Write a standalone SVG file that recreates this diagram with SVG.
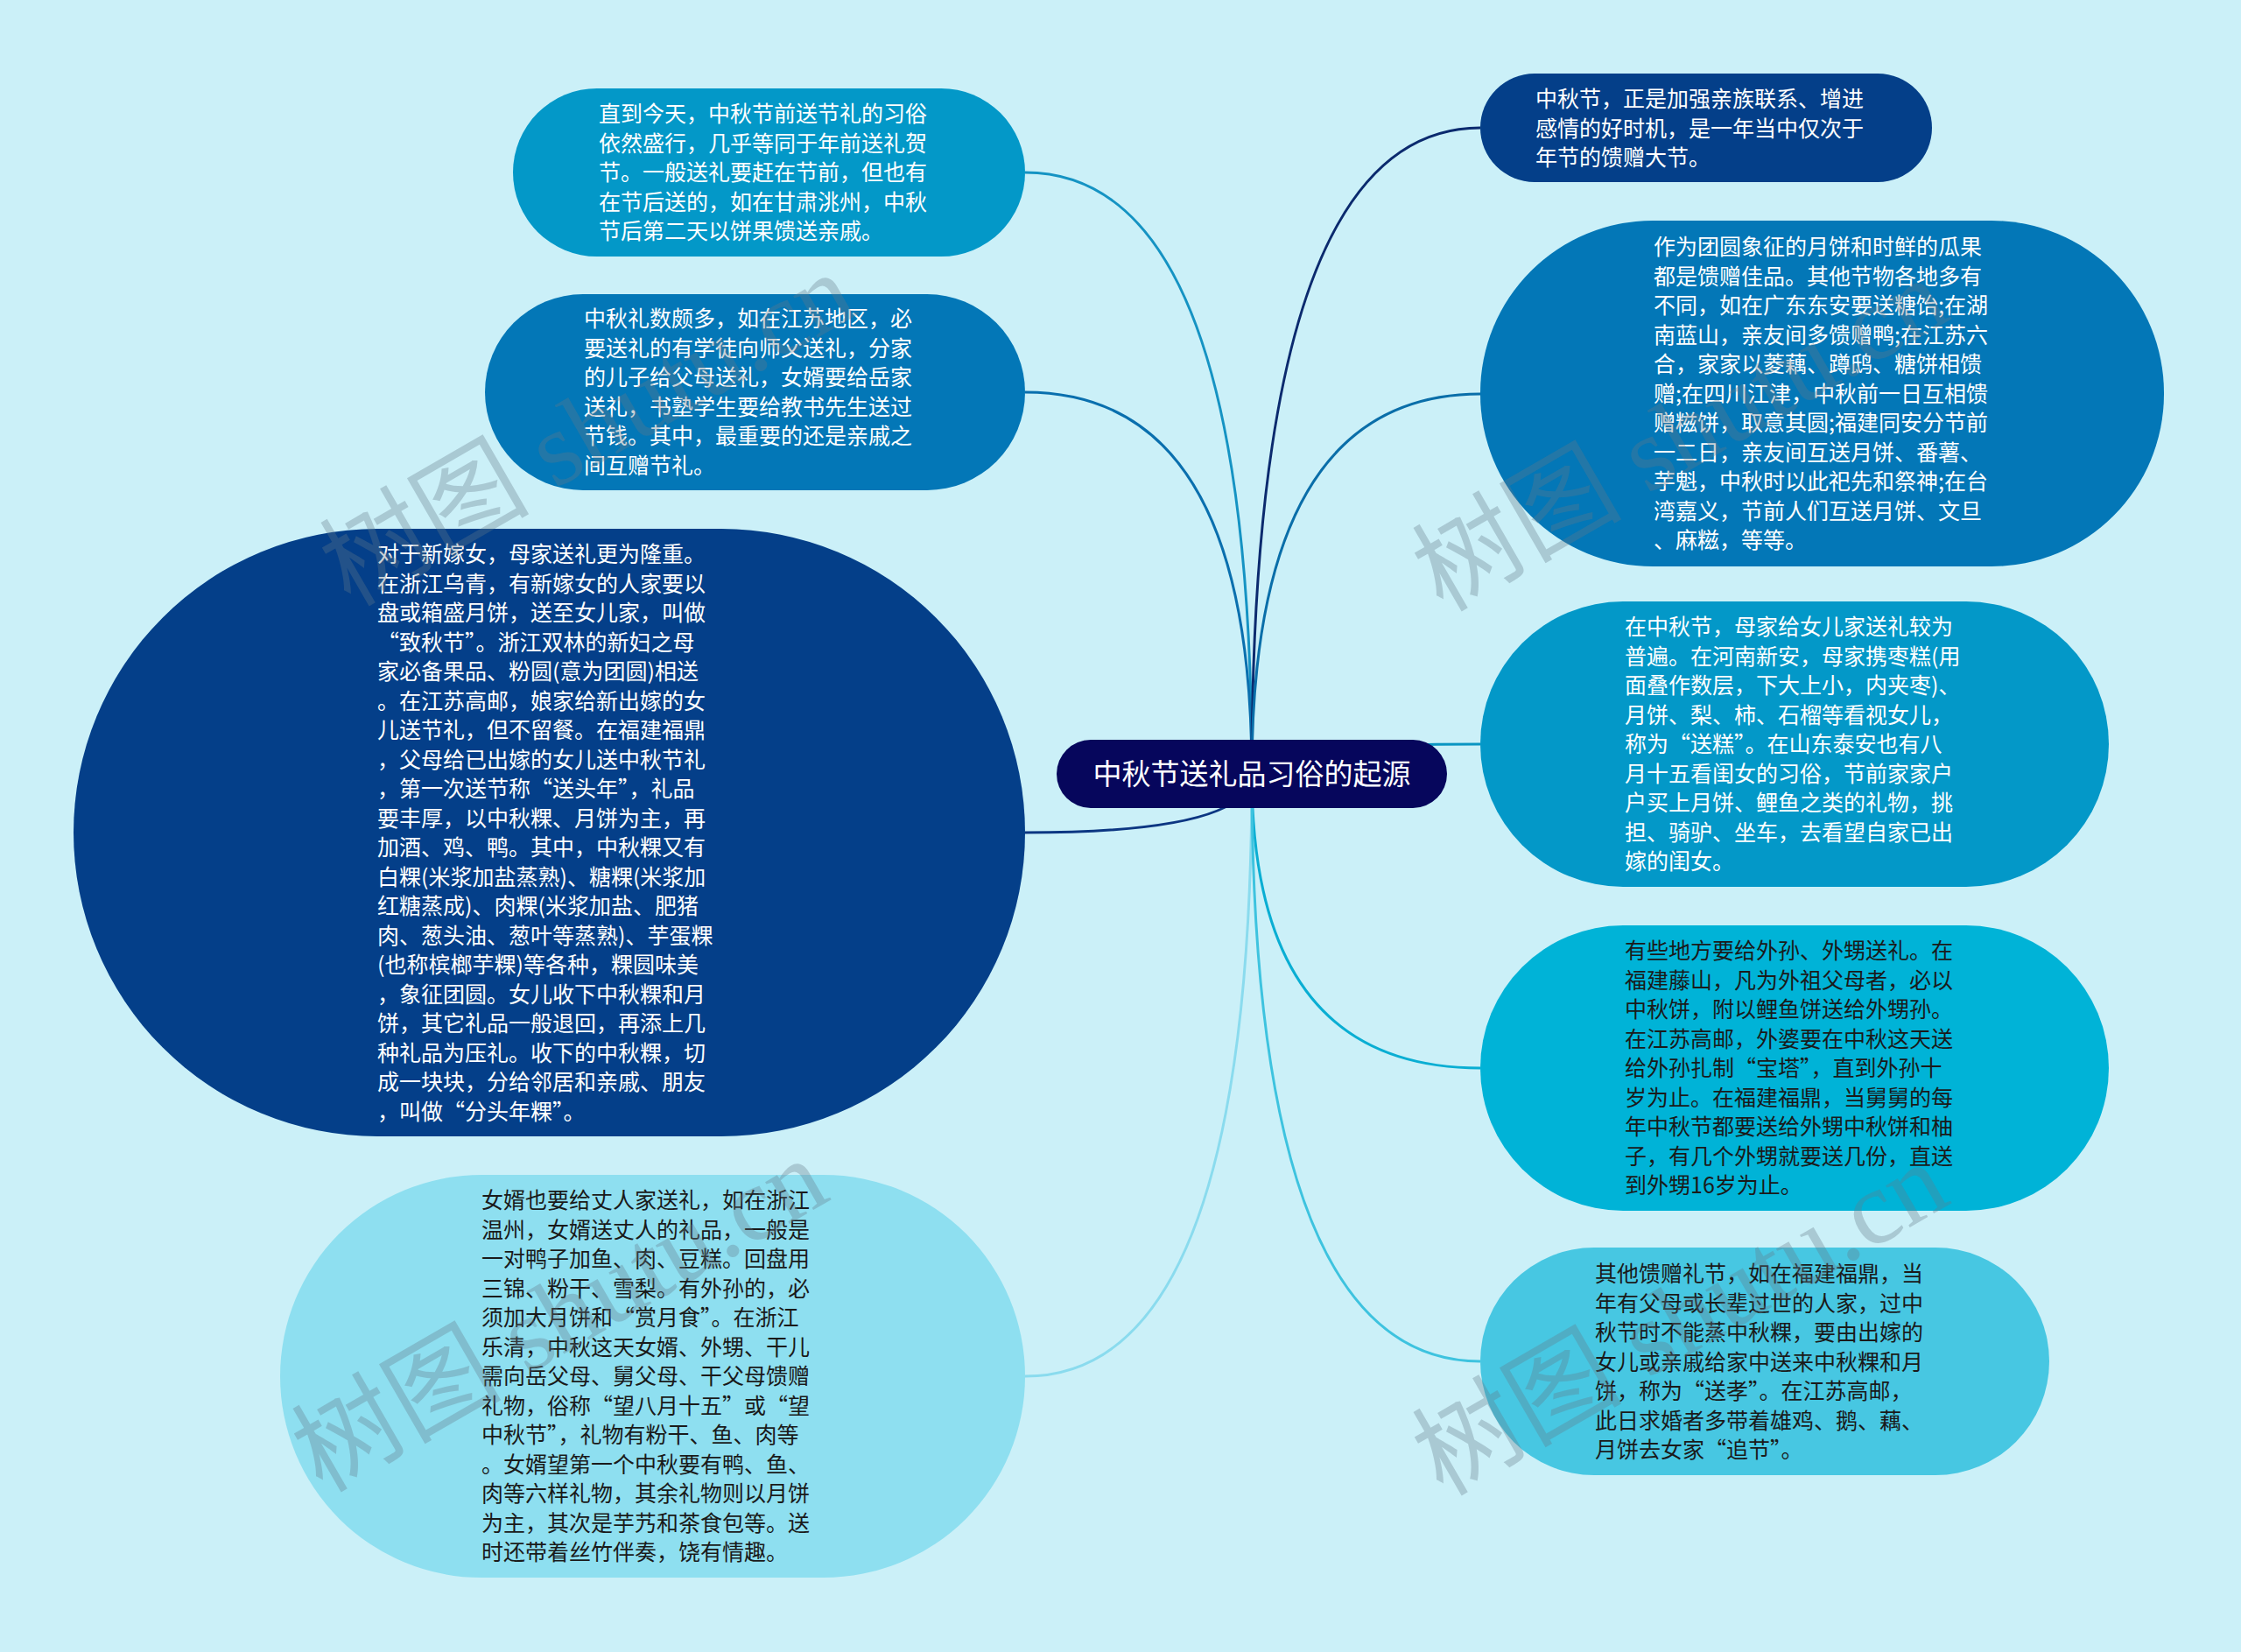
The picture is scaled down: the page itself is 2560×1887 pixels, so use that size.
<svg xmlns="http://www.w3.org/2000/svg" width="2560" height="1887" viewBox="0 0 2560 1887">
<style>
.t{font-family:"Noto Sans CJK SC","Noto Sans",sans-serif;font-size:25px;}
.w{fill:#ffffff;}
.k{fill:#1a1a1a;}
.c{fill:none;stroke-width:3;}
.wm{font-family:"Liberation Serif","Noto Sans CJK SC",serif;font-size:120px;fill:#64788a;fill-opacity:0.33;}
</style>
<rect x="0" y="0" width="2560" height="1887" fill="#cbf0f8"/>
<g id="connectors">
<path class="c" stroke="#1593c3" d="M1430 884 Q1430 197 1171 197"/>
<path class="c" stroke="#0a6fae" d="M1430 884 Q1430 448 1171 448"/>
<path class="c" stroke="#0c3682" d="M1430 884 Q1430 951 1171 951"/>
<path class="c" stroke="#8adbee" d="M1430 884 Q1430 1572 1171 1572"/>
<path class="c" stroke="#0b2a6e" d="M1430 884 Q1430 146 1691 146"/>
<path class="c" stroke="#0a6ea9" d="M1430 884 Q1430 450 1691 450"/>
<path class="c" stroke="#0a95c2" d="M1430 884 Q1430 850 1691 850"/>
<path class="c" stroke="#0aaed3" d="M1430 884 Q1430 1220 1691 1220"/>
<path class="c" stroke="#3ec3df" d="M1430 884 Q1430 1555 1691 1555"/>
</g>
<g id="root">
<rect x="1207" y="845" width="446" height="78" rx="39" fill="#06065c"/>
<text x="1430" y="896" text-anchor="middle" style="font-family:'Noto Sans CJK SC',sans-serif;font-size:33px;fill:#ffffff">中秋节送礼品习俗的起源</text>
</g>
<g id="nodeA">
<rect x="586" y="101" width="585" height="192" rx="96" fill="#0398c8"/>
<text class="t w" x="684" y="139"><tspan x="684">直到今天，中秋节前送节礼的习俗</tspan><tspan x="684" dy="33.5">依然盛行，几乎等同于年前送礼贺</tspan><tspan x="684" dy="33.5">节。一般送礼要赶在节前，但也有</tspan><tspan x="684" dy="33.5">在节后送的，如在甘肃洮州，中秋</tspan><tspan x="684" dy="33.5">节后第二天以饼果馈送亲戚。</tspan></text>
</g>
<g id="nodeB">
<rect x="554" y="336" width="617" height="224" rx="112" fill="#0377b7"/>
<text class="t w" x="667" y="373"><tspan x="667">中秋礼数颇多，如在江苏地区，必</tspan><tspan x="667" dy="33.5">要送礼的有学徒向师父送礼，分家</tspan><tspan x="667" dy="33.5">的儿子给父母送礼，女婿要给岳家</tspan><tspan x="667" dy="33.5">送礼，书塾学生要给教书先生送过</tspan><tspan x="667" dy="33.5">节钱。其中，最重要的还是亲戚之</tspan><tspan x="667" dy="33.5">间互赠节礼。</tspan></text>
</g>
<g id="nodeC">
<rect x="84" y="604" width="1087" height="694" rx="347" fill="#043f89"/>
<text class="t w" x="431" y="642"><tspan x="431">对于新嫁女，母家送礼更为隆重。</tspan><tspan x="431" dy="33.5">在浙江乌青，有新嫁女的人家要以</tspan><tspan x="431" dy="33.5">盘或箱盛月饼，送至女儿家，叫做</tspan><tspan x="431" dy="33.5">“致秋节”。浙江双林的新妇之母</tspan><tspan x="431" dy="33.5">家必备果品、粉圆(意为团圆)相送</tspan><tspan x="431" dy="33.5">。在江苏高邮，娘家给新出嫁的女</tspan><tspan x="431" dy="33.5">儿送节礼，但不留餐。在福建福鼎</tspan><tspan x="431" dy="33.5">，父母给已出嫁的女儿送中秋节礼</tspan><tspan x="431" dy="33.5">，第一次送节称“送头年”，礼品</tspan><tspan x="431" dy="33.5">要丰厚，以中秋粿、月饼为主，再</tspan><tspan x="431" dy="33.5">加酒、鸡、鸭。其中，中秋粿又有</tspan><tspan x="431" dy="33.5">白粿(米浆加盐蒸熟)、糖粿(米浆加</tspan><tspan x="431" dy="33.5">红糖蒸成)、肉粿(米浆加盐、肥猪</tspan><tspan x="431" dy="33.5">肉、葱头油、葱叶等蒸熟)、芋蛋粿</tspan><tspan x="431" dy="33.5">(也称槟榔芋粿)等各种，粿圆味美</tspan><tspan x="431" dy="33.5">，象征团圆。女儿收下中秋粿和月</tspan><tspan x="431" dy="33.5">饼，其它礼品一般退回，再添上几</tspan><tspan x="431" dy="33.5">种礼品为压礼。收下的中秋粿，切</tspan><tspan x="431" dy="33.5">成一块块，分给邻居和亲戚、朋友</tspan><tspan x="431" dy="33.5">，叫做“分头年粿”。</tspan></text>
</g>
<g id="nodeD">
<rect x="320" y="1342" width="851" height="460" rx="230" fill="#8edff0"/>
<text class="t k" x="550" y="1380"><tspan x="550">女婿也要给丈人家送礼，如在浙江</tspan><tspan x="550" dy="33.5">温州，女婿送丈人的礼品，一般是</tspan><tspan x="550" dy="33.5">一对鸭子加鱼、肉、豆糕。回盘用</tspan><tspan x="550" dy="33.5">三锦、粉干、雪梨。有外孙的，必</tspan><tspan x="550" dy="33.5">须加大月饼和“赏月食”。在浙江</tspan><tspan x="550" dy="33.5">乐清，中秋这天女婿、外甥、干儿</tspan><tspan x="550" dy="33.5">需向岳父母、舅父母、干父母馈赠</tspan><tspan x="550" dy="33.5">礼物，俗称“望八月十五”或“望</tspan><tspan x="550" dy="33.5">中秋节”，礼物有粉干、鱼、肉等</tspan><tspan x="550" dy="33.5">。女婿望第一个中秋要有鸭、鱼、</tspan><tspan x="550" dy="33.5">肉等六样礼物，其余礼物则以月饼</tspan><tspan x="550" dy="33.5">为主，其次是芋艿和茶食包等。送</tspan><tspan x="550" dy="33.5">时还带着丝竹伴奏，饶有情趣。</tspan></text>
</g>
<g id="nodeE">
<rect x="1691" y="84" width="516" height="124" rx="62" fill="#043f89"/>
<text class="t w" x="1754" y="122"><tspan x="1754">中秋节，正是加强亲族联系、增进</tspan><tspan x="1754" dy="33.5">感情的好时机，是一年当中仅次于</tspan><tspan x="1754" dy="33.5">年节的馈赠大节。</tspan></text>
</g>
<g id="nodeF">
<rect x="1691" y="252" width="781" height="395" rx="197" fill="#0377b7"/>
<text class="t w" x="1889" y="291"><tspan x="1889">作为团圆象征的月饼和时鲜的瓜果</tspan><tspan x="1889" dy="33.5">都是馈赠佳品。其他节物各地多有</tspan><tspan x="1889" dy="33.5">不同，如在广东东安要送糖饴;在湖</tspan><tspan x="1889" dy="33.5">南蓝山，亲友间多馈赠鸭;在江苏六</tspan><tspan x="1889" dy="33.5">合，家家以菱藕、蹲鸱、糖饼相馈</tspan><tspan x="1889" dy="33.5">赠;在四川江津，中秋前一日互相馈</tspan><tspan x="1889" dy="33.5">赠糍饼，取意其圆;福建同安分节前</tspan><tspan x="1889" dy="33.5">一二日，亲友间互送月饼、番薯、</tspan><tspan x="1889" dy="33.5">芋魁，中秋时以此祀先和祭神;在台</tspan><tspan x="1889" dy="33.5">湾嘉义，节前人们互送月饼、文旦</tspan><tspan x="1889" dy="33.5">、麻糍，等等。</tspan></text>
</g>
<g id="nodeG">
<rect x="1691" y="687" width="718" height="326" rx="163" fill="#0398c8"/>
<text class="t w" x="1856" y="725"><tspan x="1856">在中秋节，母家给女儿家送礼较为</tspan><tspan x="1856" dy="33.5">普遍。在河南新安，母家携枣糕(用</tspan><tspan x="1856" dy="33.5">面叠作数层，下大上小，内夹枣)、</tspan><tspan x="1856" dy="33.5">月饼、梨、柿、石榴等看视女儿，</tspan><tspan x="1856" dy="33.5">称为“送糕”。在山东泰安也有八</tspan><tspan x="1856" dy="33.5">月十五看闺女的习俗，节前家家户</tspan><tspan x="1856" dy="33.5">户买上月饼、鲤鱼之类的礼物，挑</tspan><tspan x="1856" dy="33.5">担、骑驴、坐车，去看望自家已出</tspan><tspan x="1856" dy="33.5">嫁的闺女。</tspan></text>
</g>
<g id="nodeH">
<rect x="1691" y="1057" width="718" height="326" rx="163" fill="#00b3d7"/>
<text class="t k" x="1856" y="1095"><tspan x="1856">有些地方要给外孙、外甥送礼。在</tspan><tspan x="1856" dy="33.5">福建藤山，凡为外祖父母者，必以</tspan><tspan x="1856" dy="33.5">中秋饼，附以鲤鱼饼送给外甥孙。</tspan><tspan x="1856" dy="33.5">在江苏高邮，外婆要在中秋这天送</tspan><tspan x="1856" dy="33.5">给外孙扎制“宝塔”，直到外孙十</tspan><tspan x="1856" dy="33.5">岁为止。在福建福鼎，当舅舅的每</tspan><tspan x="1856" dy="33.5">年中秋节都要送给外甥中秋饼和柚</tspan><tspan x="1856" dy="33.5">子，有几个外甥就要送几份，直送</tspan><tspan x="1856" dy="33.5">到外甥16岁为止。</tspan></text>
</g>
<g id="nodeI">
<rect x="1691" y="1425" width="650" height="260" rx="130" fill="#47c7e2"/>
<text class="t k" x="1822" y="1464"><tspan x="1822">其他馈赠礼节，如在福建福鼎，当</tspan><tspan x="1822" dy="33.5">年有父母或长辈过世的人家，过中</tspan><tspan x="1822" dy="33.5">秋节时不能蒸中秋粿，要由出嫁的</tspan><tspan x="1822" dy="33.5">女儿或亲戚给家中送来中秋粿和月</tspan><tspan x="1822" dy="33.5">饼，称为“送孝”。在江苏高邮，</tspan><tspan x="1822" dy="33.5">此日求婚者多带着雄鸡、鹅、藕、</tspan><tspan x="1822" dy="33.5">月饼去女家“追节”。</tspan></text>
</g>
<g id="watermarks">
<text class="wm" transform="translate(400 694) rotate(-30)">树图 shutu.cn</text>
<text class="wm" transform="translate(1648 700) rotate(-30)">树图 shutu.cn</text>
<text class="wm" transform="translate(368 1706) rotate(-30)">树图 shutu.cn</text>
<text class="wm" transform="translate(1648 1710) rotate(-30)">树图 shutu.cn</text>
</g>
</svg>
